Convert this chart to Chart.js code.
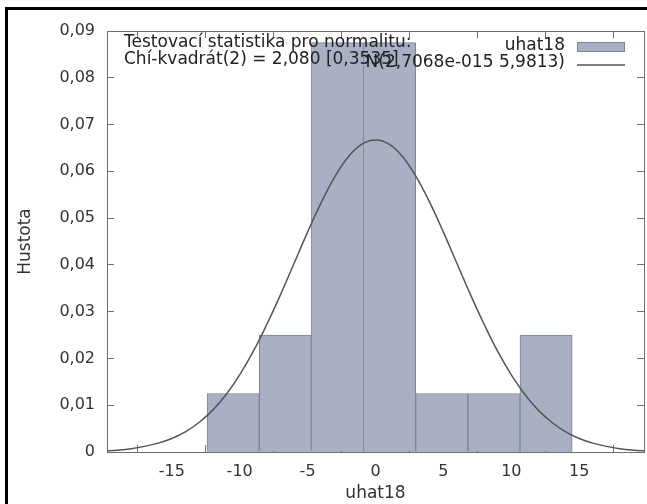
<!DOCTYPE html>
<html>
<head>
<meta charset="utf-8">
<script src="https://cdn.jsdelivr.net/npm/chart.js@4.4.1/dist/chart.umd.min.js"></script>
<style>
  html, body { margin: 0; padding: 0; background: #fff; }
  #wrap { position: relative; width: 647px; height: 504px; }
  #frame {
    position: absolute; left: 5px; top: 7px; right: -10px; bottom: -10px;
    border-top: 3px solid #000; border-left: 3px solid #000;
    pointer-events: none;
  }
</style>
</head>
<body>
<div id="wrap">
  <canvas id="hist"></canvas>
  <div id="frame"></div>
</div>
<script>
// Histogram bins (centers) and densities
const binCenters = [-10.48, -6.64, -2.80, 1.04, 4.88, 8.72, 12.56];
const binDensity = [0.0125, 0.025, 0.0875, 0.0875, 0.0125, 0.0125, 0.025];

// Normal curve, sampled from the drawn line
const curveX = [-20, -19, -18, -17, -16, -15, -14, -13, -12, -11, -10, -9, -8, -7, -6, -5, -4, -3, -2, -1,
  0, 1, 2, 3, 4, 5, 6, 7, 8, 9, 10, 11, 12, 13, 14, 15, 16, 17, 18, 19, 20];
const curveY = [0.0002, 0.0004, 0.0007, 0.0012, 0.0019, 0.0029, 0.0043, 0.0063, 0.0089, 0.0123, 0.0165,
  0.0215, 0.0273, 0.0336, 0.0403, 0.0470, 0.0533, 0.0588, 0.0631, 0.0658,
  0.0667, 0.0658, 0.0631, 0.0588, 0.0533, 0.0470, 0.0403, 0.0336, 0.0273, 0.0215, 0.0165,
  0.0123, 0.0089, 0.0063, 0.0043, 0.0029, 0.0019, 0.0012, 0.0007, 0.0004, 0.0002];

// Axes
const xTicks = [-15, -10, -5, 0, 5, 10, 15];
const xTickLabels = ['-15', '-10', '-5', '0', '5', '10', '15'];
const yTicks = [0, 0.01, 0.02, 0.03, 0.04, 0.05, 0.06, 0.07, 0.08, 0.09];
const yTickLabels = ['0', '0,01', '0,02', '0,03', '0,04', '0,05', '0,06', '0,07', '0,08', '0,09'];

const seriesLabels = ['uhat18', 'N(2,7068e-015 5,9813)'];
const testText = ['Testovací statistika pro normalitu:', 'Chí-kvadrát(2) = 2,080 [0,3535]'];

const xMin = -19.77, xMax = 19.77;
const barFill = '#a9b0c3';
const barEdge = '#7a849e';
const curveColor = '#555555';
const axisColor = '#6e6e6e';

Chart.defaults.font.family = 'DejaVu Sans';
Chart.defaults.font.size = 16;
Chart.defaults.color = '#333';

function setTicks(list) {
  return function (scale) { scale.ticks = list.map(v => ({ value: v })); };
}

// Text block + legend inside the plot, drawn on top
const overlay = {
  id: 'overlay',
  afterDraw(chart) {
    const ctx = chart.ctx;
    ctx.save();
    ctx.font = '17px "DejaVu Sans"';
    ctx.fillStyle = '#222';
    ctx.textBaseline = 'middle';
    ctx.textAlign = 'left';
    ctx.fillText(testText[0], 124, 43);
    ctx.fillText(testText[1], 124, 60);

    ctx.textAlign = 'right';
    ctx.fillText(seriesLabels[0], 565, 46);
    ctx.fillText(seriesLabels[1], 565, 63);

    ctx.fillStyle = barFill;
    ctx.strokeStyle = barEdge;
    ctx.lineWidth = 1;
    ctx.fillRect(577, 42, 48, 10);
    ctx.strokeRect(577.5, 42.5, 47, 9);

    ctx.strokeStyle = curveColor;
    ctx.lineWidth = 1.5;
    ctx.beginPath();
    ctx.moveTo(577, 65);
    ctx.lineTo(625, 65);
    ctx.stroke();
    ctx.restore();
  }
};

const axisGrid = { drawOnChartArea: false, color: axisColor, tickLength: -7, lineWidth: 1 };
const axisBorder = { color: axisColor, width: 1 };

new Chart(document.getElementById('hist'), {
  type: 'bar',
  data: {
    datasets: [
      {
        type: 'line',
        label: seriesLabels[1],
        data: curveX.map((x, i) => ({ x: x, y: curveY[i] })),
        borderColor: curveColor,
        borderWidth: 1.5,
        pointRadius: 0,
        tension: 0.4,
        fill: false,
        order: 0
      },
      {
        type: 'bar',
        label: seriesLabels[0],
        data: binCenters.map((x, i) => ({ x: x, y: binDensity[i] })),
        backgroundColor: barFill,
        borderColor: barEdge,
        borderWidth: 1,
        borderSkipped: false,
        barPercentage: 1,
        categoryPercentage: 1,
        order: 1
      }
    ]
  },
  options: {
    responsive: true,
    maintainAspectRatio: false,
    animation: false,
    layout: { padding: { top: 31, right: 3, left: 0, bottom: 0 } },
    plugins: { legend: { display: false }, tooltip: { enabled: false } },
    scales: {
      x: {
        type: 'linear', position: 'bottom', min: xMin, max: xMax, offset: false,
        grid: axisGrid, border: axisBorder,
        afterBuildTicks: setTicks(xTicks),
        afterFit(s) { s.height = 52; },
        ticks: { padding: 17, maxRotation: 0, callback: (v, i) => xTickLabels[i] },
        title: { display: true, text: 'uhat18', font: { size: 17 }, padding: { top: 0, bottom: 0 } }
      },
      x2: {
        type: 'linear', position: 'top', min: xMin, max: xMax, offset: false,
        grid: axisGrid, border: axisBorder,
        afterBuildTicks: setTicks(xTicks),
        afterFit(s) { s.height = 0; },
        ticks: { display: false }
      },
      y: {
        type: 'linear', position: 'left', min: 0, max: 0.09,
        grid: axisGrid, border: axisBorder,
        afterBuildTicks: setTicks(yTicks),
        afterFit(s) { s.width = 107; },
        ticks: { padding: 19, callback: (v, i) => yTickLabels[i] },
        title: { display: true, text: 'Hustota', font: { size: 17 }, padding: { top: 15, bottom: 0 } }
      },
      y2: {
        type: 'linear', position: 'right', min: 0, max: 0.09,
        grid: axisGrid, border: axisBorder,
        afterBuildTicks: setTicks(yTicks),
        afterFit(s) { s.width = 0; },
        ticks: { display: false }
      }
    }
  },
  plugins: [overlay]
});
</script>
</body>
</html>
